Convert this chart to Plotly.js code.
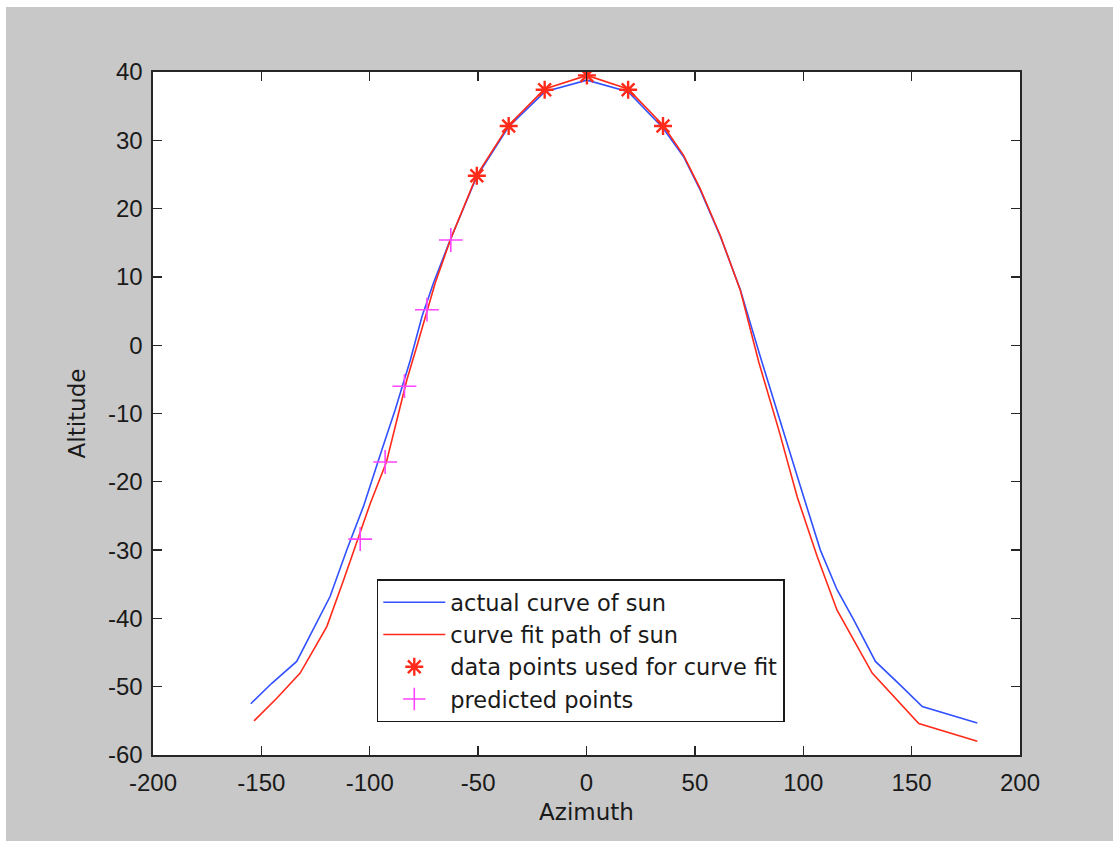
<!DOCTYPE html>
<html>
<head>
<meta charset="utf-8">
<script src="https://cdn.plot.ly/plotly-3.0.1.min.js"></script>
<style>
  html, body { margin: 0; padding: 0; background: #ffffff; }
  #chart { position: absolute; left: 6px; top: 7px; width: 1107px; height: 834px; }
</style>
</head>
<body>
<div id="chart"></div>
<script>
// actual curve of sun
const actualAz  = [-154.9, -145.2, -133.7, -124.4, -118.3, -110.6, -102.9, -94.4, -88.3, -81.3, -75.9, -70.6, -62.9, -50.6, -35.9, -19.3, 0.2, 19.2, 35.3, 44.8, 52.5, 61.8, 71.0, 80.2, 89.5, 98.7, 107.9, 115.6, 123.3, 133.3, 144.9, 154.9, 180.3];
const actualAlt = [-52.5, -49.5, -46.3, -40.7, -36.8, -30.0, -23.6, -15.3, -9.5, -2.2, 4.2, 9.1, 15.4, 24.7, 32.0, 37.1, 38.8, 37.1, 31.8, 27.6, 22.7, 15.9, 8.1, -1.7, -11.4, -20.7, -30.0, -35.8, -40.2, -46.3, -49.8, -52.9, -55.3];

// curve fit path of sun
const fitAz  = [-153.4, -142.9, -132.1, -119.8, -112.1, -106.0, -99.8, -92.3, -86.7, -82.9, -78.3, -74.4, -69.8, -62.6, -50.6, -35.9, -19.3, 0.2, 19.2, 35.3, 44.8, 52.5, 61.8, 71.0, 79.5, 88.7, 97.2, 106.4, 115.6, 131.8, 143.3, 153.3, 180.3];
const fitAlt = [-55.0, -51.7, -48.0, -41.2, -34.4, -29.0, -23.2, -17.1, -10.0, -5.1, -0.2, 4.2, 9.1, 15.6, 24.9, 32.2, 37.5, 39.5, 37.5, 32.2, 27.8, 22.9, 16.0, 8.0, -2.5, -12.4, -22.2, -30.9, -38.8, -48.0, -52.0, -55.4, -58.0];

// data points used for curve fit
const dataAz  = [-50.6, -35.9, -19.3, 0.2, 19.2, 35.3];
const dataAlt = [24.8, 32.1, 37.4, 39.5, 37.4, 32.1];

// predicted points
const predAz  = [-62.6, -73.6, -84.0, -92.9, -104.4];
const predAlt = [15.4, 5.2, -6.0, -17.1, -28.4];

const xTicks = [-200, -150, -100, -50, 0, 50, 100, 150, 200];
const yTicks = [-60, -50, -40, -30, -20, -10, 0, 10, 20, 30, 40];

const FONT = "Liberation Sans, Arial, sans-serif";
const WFONT = "DejaVu Sans, Verdana, sans-serif";
const AXC = "#262626";

const traces = [
  { x: actualAz, y: actualAlt, mode: "lines", name: "actual curve of sun",
    line: { color: "#3150ff", width: 1.6 } },
  { x: fitAz, y: fitAlt, mode: "lines", name: "curve fit path of sun",
    line: { color: "#ff2a1a", width: 1.6 } },
  { x: dataAz, y: dataAlt, mode: "markers", name: "data points used for curve fit",
    marker: { symbol: "asterisk-open", size: 15, color: "#ff2a1a", line: { color: "#ff2a1a", width: 2.4 } } },
  { x: predAz, y: predAlt, mode: "markers", name: "predicted points",
    marker: { symbol: "cross-thin-open", size: 17, color: "#ff44ff", line: { color: "#ff44ff", width: 1.6 } } }
];

const axisCommon = {
  showline: true, linecolor: AXC, linewidth: 1.6, mirror: "ticks",
  ticks: "inside", ticklen: 9, tickwidth: 1.4, tickcolor: AXC,
  showgrid: false, zeroline: false,
  tickfont: { family: FONT, size: 24, color: "#1a1a1a" },
  fixedrange: true
};

const layout = {
  width: 1107, height: 834,
  paper_bgcolor: "#c8c8c8", plot_bgcolor: "#ffffff",
  margin: { l: 147, r: 93, t: 65, b: 86 },
  showlegend: true,
  legend: {
    x: 0.258, y: 0.257, xanchor: "left", yanchor: "top",
    bgcolor: "#ffffff", bordercolor: "#1a1a1a", borderwidth: 1.6,
    font: { family: WFONT, size: 22.5, color: "#1a1a1a" },
    tracegroupgap: 0, itemwidth: 62
  },
  xaxis: Object.assign({}, axisCommon, {
    range: [-200, 200], tickvals: xTicks, ticktext: xTicks.map(String),
    ticklabelstandoff: 6,
    title: { text: "Azimuth", font: { family: WFONT, size: 23, color: "#1a1a1a" }, standoff: 8 }
  }),
  yaxis: Object.assign({}, axisCommon, {
    range: [-60, 40], tickvals: yTicks, ticktext: yTicks.map(String),
    ticklabelstandoff: 4,
    title: { text: "Altitude", font: { family: WFONT, size: 23, color: "#1a1a1a" }, standoff: 16 }
  })
};

Plotly.newPlot("chart", traces, layout, { displayModeBar: false, staticPlot: true });
</script>
</body>
</html>
